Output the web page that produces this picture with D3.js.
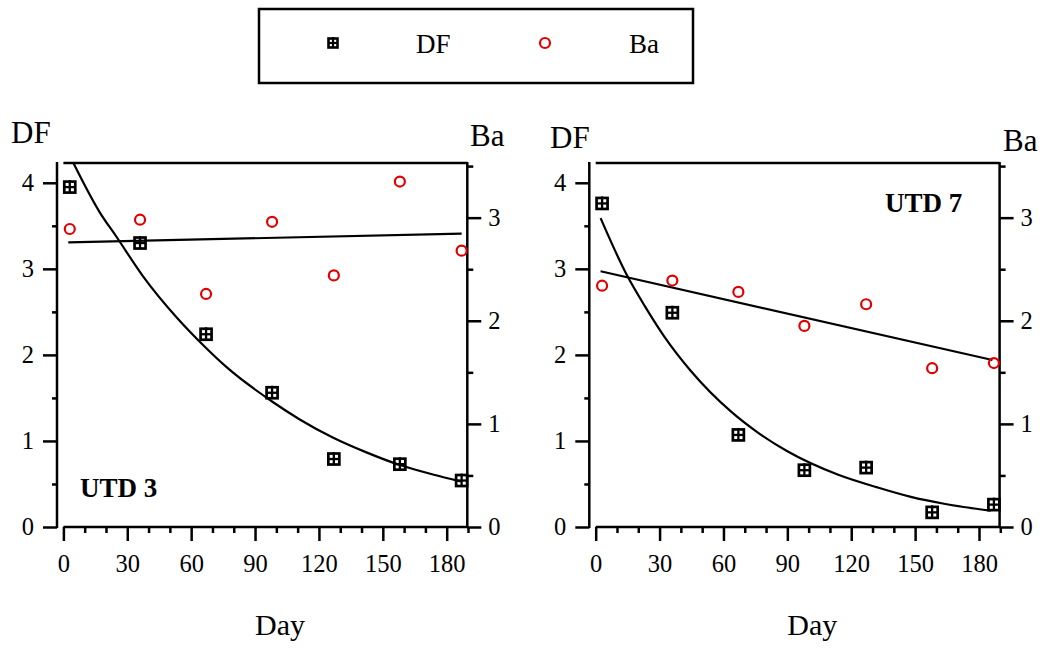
<!DOCTYPE html>
<html>
<head>
<meta charset="utf-8">
<script src="https://cdn.jsdelivr.net/npm/d3@7"></script>
<style>
  body { margin: 0; background: #fff; }
  text { font-family: "Liberation Serif", "Times New Roman", serif; fill: #000; }
</style>
</head>
<body>
<svg id="chart" width="1044" height="648"></svg>
<script>
// sampling days (same for both trees)
const days = [3, 36, 67, 98, 127, 158, 187];

// UTD 3
const df3 = [3.95, 3.30, 2.24, 1.56, 0.79, 0.73, 0.54];
const ba3 = [2.89, 2.98, 2.26, 2.96, 2.44, 3.35, 2.68];
// UTD 7
const df7 = [3.76, 2.49, 1.07, 0.66, 0.69, 0.17, 0.26];
const ba7 = [2.34, 2.39, 2.28, 1.95, 2.16, 1.54, 1.59];

// fitted curves, values
const fitDays3 = [4.7, 17, 25, 37.5, 53, 67, 76.5, 98.5, 111, 126.5, 142, 158, 173.5, 186.5];
const fitDf3 = [4.23, 3.66, 3.37, 2.91, 2.44, 2.08, 1.86, 1.45, 1.25, 1.04, 0.87, 0.72, 0.61, 0.53];
const fitDays7 = [2.3, 15, 23, 32.3, 44.8, 63.6, 76, 90, 113.6, 132.3, 148, 163.6, 185.5];
const fitDf7 = [3.59, 2.91, 2.57, 2.21, 1.81, 1.34, 1.10, 0.88, 0.61, 0.46, 0.35, 0.27, 0.19];
const baLineDays3 = [2.3, 187];
const baLine3 = [2.76, 2.845];
const baLineDays7 = [2.3, 186.3];
const baLine7 = [2.48, 1.62];

const xMajor = [0, 30, 60, 90, 120, 150, 180];
const xMinor = d3.range(10, 191, 10).filter(d => d % 30 !== 0);
const dfMajor = [0, 1, 2, 3, 4];
const dfMinor = [0.5, 1.5, 2.5, 3.5];
const baMajor = [0, 1, 2, 3];
const baMinor = [0.5, 1.5, 2.5, 3.5];

const red = "#e00000";
const svg = d3.select("#chart");

const plotTop = 163, plotBottom = 527;
const yDF = d3.scaleLinear().domain([0, 4.23]).range([plotBottom, plotTop]);
const yBa = d3.scaleLinear().domain([0, 3.53]).range([plotBottom, plotTop]);

function boxMarker(sel, size, sw) {
  const h = size / 2;
  sel.append("rect").attr("x", -h).attr("y", -h).attr("width", size).attr("height", size)
     .attr("fill", "none").attr("stroke", "#000").attr("stroke-width", sw);
  sel.append("line").attr("x1", 0).attr("x2", 0).attr("y1", -h - 1.5).attr("y2", h)
     .attr("stroke", "#000").attr("stroke-width", sw - 0.4);
  sel.append("line").attr("x1", -h).attr("x2", h).attr("y1", 0).attr("y2", 0)
     .attr("stroke", "#000").attr("stroke-width", sw - 0.4);
}

function styleAxis(g) {
  g.select(".domain").remove();
  g.selectAll("line").attr("stroke", "#000").attr("stroke-width", 2.5);
  g.selectAll("text").attr("font-size", 24.5).attr("fill", "#000")
   .style("font-family", '"Liberation Serif", serif');
}

function drawPanel(ox, dfVals, baVals, fitD, fitV, lineD, lineV, opt) {
  const x = d3.scaleLinear().domain([-3, 190]).range([57 + ox, 468 + ox]);
  const g = svg.append("g");
  const xL = x(-3), xR = 467.3 + ox;
  const fmt = d3.format("d");

  // frame: left axis, right axis, top and bottom lines
  g.append("line").attr("x1", xL).attr("x2", xL).attr("y1", plotTop - 1).attr("y2", plotBottom + 1)
   .attr("stroke", "#000").attr("stroke-width", 2.5);
  g.append("line").attr("x1", xR).attr("x2", xR).attr("y1", plotTop - 1).attr("y2", plotBottom + 1)
   .attr("stroke", "#000").attr("stroke-width", 2.5);
  g.append("line").attr("x1", x(0)).attr("x2", xR).attr("y1", plotTop).attr("y2", plotTop)
   .attr("stroke", "#000").attr("stroke-width", 2.5);
  g.append("line").attr("x1", x(0)).attr("x2", xR).attr("y1", plotBottom).attr("y2", plotBottom)
   .attr("stroke", "#000").attr("stroke-width", 2.5);

  // x axis
  g.append("g").attr("transform", `translate(0,${plotBottom})`)
   .call(d3.axisBottom(x).tickValues(xMinor).tickSize(6).tickFormat(""))
   .call(styleAxis);
  g.append("g").attr("transform", `translate(0,${plotBottom})`)
   .call(d3.axisBottom(x).tickValues(xMajor).tickSize(14).tickPadding(14).tickFormat(fmt))
   .call(styleAxis);

  // DF axis (left)
  g.append("g").attr("transform", `translate(${xL},0)`)
   .call(d3.axisLeft(yDF).tickValues(dfMinor).tickSize(5).tickFormat(""))
   .call(styleAxis);
  g.append("g").attr("transform", `translate(${xL},0)`)
   .call(d3.axisLeft(yDF).tickValues(dfMajor).tickSize(14).tickPadding(9).tickFormat(fmt))
   .call(styleAxis);

  // Ba axis (right)
  g.append("g").attr("transform", `translate(${xR},0)`)
   .call(d3.axisRight(yBa).tickValues(baMinor).tickSize(6).tickFormat(""))
   .call(styleAxis);
  g.append("g").attr("transform", `translate(${xR},0)`)
   .call(d3.axisRight(yBa).tickValues(baMajor).tickSize(14).tickPadding(7).tickFormat(fmt))
   .call(styleAxis);

  // axis titles
  g.append("text").attr("x", opt.dfX).attr("y", opt.titleY).attr("font-size", 31).text("DF");
  g.append("text").attr("x", opt.baX).attr("y", opt.titleY + 3).attr("font-size", 31).text("Ba");
  g.append("text").attr("x", (x(0) + x(180)) / 2 + 25).attr("y", 635)
   .attr("text-anchor", "middle").attr("font-size", 30).text("Day");

  // fitted lines
  const fitPts = fitD.map((d, i) => [d, fitV[i]]);
  g.append("path").datum(fitPts)
   .attr("fill", "none").attr("stroke", "#000").attr("stroke-width", 2.2)
   .attr("d", d3.line().x(d => x(d[0])).y(d => yDF(d[1])).curve(d3.curveMonotoneX));
  const linePts = lineD.map((d, i) => [d, lineV[i]]);
  g.append("path").datum(linePts)
   .attr("fill", "none").attr("stroke", "#000").attr("stroke-width", 2.2)
   .attr("d", d3.line().x(d => x(d[0])).y(d => yBa(d[1])));

  // points
  g.selectAll(".ba").data(baVals).enter().append("circle")
   .attr("cx", (d, i) => x(days[i])).attr("cy", d => yBa(d)).attr("r", 5)
   .attr("fill", "none").attr("stroke", red).attr("stroke-width", 2.2);
  g.selectAll(".df").data(dfVals).enter().append("g")
   .attr("transform", (d, i) => `translate(${x(days[i])},${yDF(d)})`)
   .each(function() { boxMarker(d3.select(this), 11, 2.7); });

  // tree label
  g.append("text").attr("x", opt.labX).attr("y", opt.labY)
   .attr("font-size", 27).attr("font-weight", "bold").text(opt.label);
}

drawPanel(0, df3, ba3, fitDays3, fitDf3, baLineDays3, baLine3,
  { label: "UTD 3", labX: 80, labY: 497, dfX: 11, baX: 470, titleY: 143 });
drawPanel(532.3, df7, ba7, fitDays7, fitDf7, baLineDays7, baLine7,
  { label: "UTD 7", labX: 885, labY: 212, dfX: 550, baX: 1003, titleY: 148 });

// legend
const leg = svg.append("g");
leg.append("rect").attr("x", 259).attr("y", 9).attr("width", 434).attr("height", 74)
   .attr("fill", "none").attr("stroke", "#000").attr("stroke-width", 2.5);
boxMarker(leg.append("g").attr("transform", "translate(333,43)"), 9, 2.6);
leg.append("text").attr("x", 416).attr("y", 53).attr("font-size", 27).text("DF");
leg.append("circle").attr("cx", 545).attr("cy", 43).attr("r", 5)
   .attr("fill", "none").attr("stroke", red).attr("stroke-width", 2.2);
leg.append("text").attr("x", 629).attr("y", 53).attr("font-size", 27).text("Ba");
</script>
</body>
</html>
